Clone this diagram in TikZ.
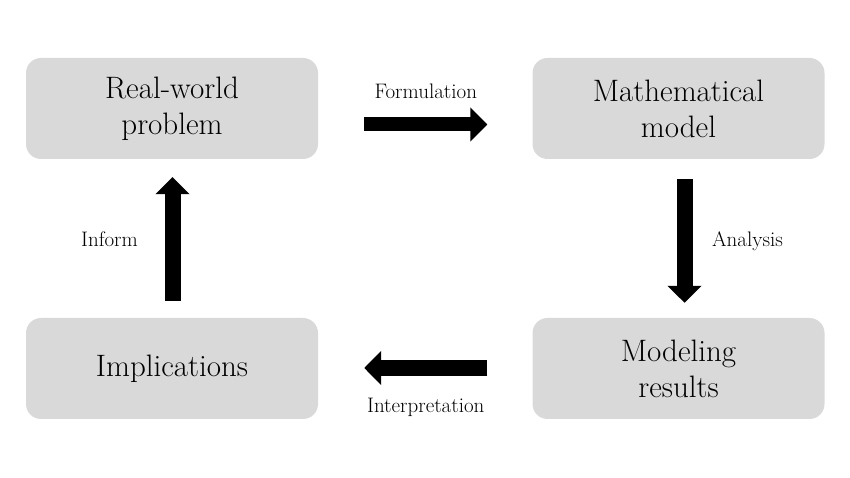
\documentclass[tikz,border=0pt]{standalone}
\usepackage{xcolor}
\usetikzlibrary{arrows.meta, positioning}
\definecolor{boxgray}{RGB}{217,217,217}
\tikzstyle{stage} = [rectangle, rounded corners=15pt, fill=boxgray,
    minimum width=292pt, minimum height=101pt, inner sep=0pt,
    align=center, font=\fontsize{31}{36}\selectfont]
\tikzstyle{arrowtext} = [font=\fontsize{21}{24}\selectfont]
\tikzstyle{bigarrow} = [draw, line width=16pt, -{Triangle[length=17pt, width=33pt]}]

\begin{document}
\begin{tikzpicture}[x=1pt, y=1pt, node distance = 2cm]
    \useasboundingbox (0,0) rectangle (850,478);
    % Nodes
    \node [stage] (real) at (172,369.5) {Real-world\\problem};
    \node [stage, right of=real, node distance=506.5pt] (model) {Mathematical\\model};
    \node [stage, below of=model, node distance=260pt] (results) {Modeling\\results};
    \node [stage, below of=real, node distance=260pt] (impl) {Implications};

    % Edges
    \path [bigarrow, line width=14pt] ([xshift=46pt, yshift=-16pt]real.east) -- ([xshift=-45pt, yshift=-16pt]model.west)
        node [arrowtext, midway, yshift=33pt] {Formulation};
    \path [bigarrow] ([xshift=6pt, yshift=-20pt]model.south) -- ([xshift=6pt, yshift=15pt]results.north)
        node [arrowtext, midway, xshift=63pt] {Analysis};
    \path [bigarrow] ([xshift=-45pt, yshift=0.5pt]results.west) -- ([xshift=46pt, yshift=0.5pt]impl.east)
        node [arrowtext, midway, yshift=-39pt] {Interpretation};
    \path [bigarrow] ([xshift=0.5pt, yshift=17pt]impl.north) -- ([xshift=0.5pt, yshift=-18pt]real.south)
        node [arrowtext, midway, xshift=-63pt] {Inform};
\end{tikzpicture}
\end{document}
